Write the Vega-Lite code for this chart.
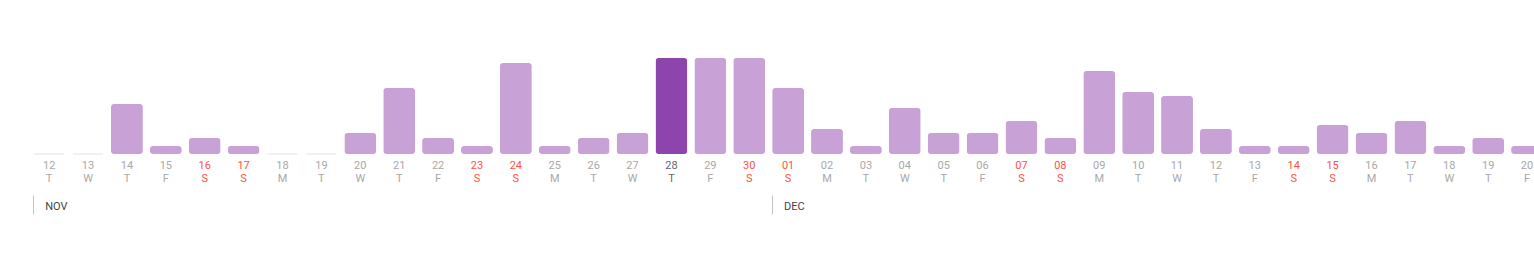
{
  "$schema": "https://vega.github.io/schema/vega-lite/v6.json",
  "width": 1534,
  "height": 154,
  "autosize": {"type": "none"},
  "padding": {"left": 0, "top": 0, "right": 0, "bottom": 108},
  "background": "white",
  "config": {"view": {"stroke": null}, "font": "Roboto"},
  "data": {
    "values": [
      {"d": "2024-11-12", "v": 0},
      {"d": "2024-11-13", "v": 0},
      {"d": "2024-11-14", "v": 50},
      {"d": "2024-11-15", "v": 8},
      {"d": "2024-11-16", "v": 16},
      {"d": "2024-11-17", "v": 8},
      {"d": "2024-11-18", "v": 0},
      {"d": "2024-11-19", "v": 0},
      {"d": "2024-11-20", "v": 21},
      {"d": "2024-11-21", "v": 66},
      {"d": "2024-11-22", "v": 16},
      {"d": "2024-11-23", "v": 8},
      {"d": "2024-11-24", "v": 91},
      {"d": "2024-11-25", "v": 8},
      {"d": "2024-11-26", "v": 16},
      {"d": "2024-11-27", "v": 21},
      {"d": "2024-11-28", "v": 96},
      {"d": "2024-11-29", "v": 96},
      {"d": "2024-11-30", "v": 96},
      {"d": "2024-12-01", "v": 66},
      {"d": "2024-12-02", "v": 25},
      {"d": "2024-12-03", "v": 8},
      {"d": "2024-12-04", "v": 46},
      {"d": "2024-12-05", "v": 21},
      {"d": "2024-12-06", "v": 21},
      {"d": "2024-12-07", "v": 33},
      {"d": "2024-12-08", "v": 16},
      {"d": "2024-12-09", "v": 83},
      {"d": "2024-12-10", "v": 62},
      {"d": "2024-12-11", "v": 58},
      {"d": "2024-12-12", "v": 25},
      {"d": "2024-12-13", "v": 8},
      {"d": "2024-12-14", "v": 8},
      {"d": "2024-12-15", "v": 29},
      {"d": "2024-12-16", "v": 21},
      {"d": "2024-12-17", "v": 33},
      {"d": "2024-12-18", "v": 8},
      {"d": "2024-12-19", "v": 16},
      {"d": "2024-12-20", "v": 8}
    ]
  },
  "resolve": {"axis": {"x": "independent"}},
  "layer": [
    {
      "transform": [{"filter": "datum.v > 0"}],
      "mark": {"type": "bar", "cornerRadius": 3},
      "encoding": {
        "x": {
          "field": "d", "type": "ordinal", "sort": "ascending",
          "scale": {"range": [33.2, 1543], "paddingInner": 0.18, "paddingOuter": 0},
          "axis": {
            "title": null, "domain": false, "ticks": false, "tickSize": 0,
            "labelPadding": 14, "labelBaseline": "alphabetic", "labelLineHeight": 13.5,
            "labelFontSize": 11, "labelFont": "Roboto", "labelAngle": 0,
            "labelOverlap": false, "labelBound": false,
            "labelExpr": "[substring(datum.value, 8, 10), ['S','M','T','W','T','F','S'][utcday(toDate(datum.value))]]",
            "labelColor": {
              "condition": [
                {"test": "datum.value == '2024-11-28'", "value": "#666666"},
                {"test": "utcday(toDate(datum.value)) == 0 || utcday(toDate(datum.value)) == 6", "value": "#ff5145"}
              ],
              "value": "#a8a8a8"
            }
          }
        },
        "y": {"field": "v", "type": "quantitative", "scale": {"domain": [0, 154], "nice": false, "zero": true}, "axis": null},
        "color": {
          "condition": {"test": "datum.d == '2024-11-28'", "value": "#8e44ad"},
          "value": "#c8a2d6"
        }
      }
    },
    {
      "transform": [{"filter": "datum.v == 0"}],
      "mark": {"type": "tick", "orient": "horizontal", "size": 30, "thickness": 1, "color": "#d6d6d6"},
      "encoding": {
        "x": {"field": "d", "type": "ordinal", "sort": "ascending", "axis": null},
        "y": {"field": "v", "type": "quantitative", "axis": null}
      }
    },
    {
      "mark": {"type": "text", "text": ""},
      "encoding": {
        "x": {
          "field": "d", "type": "ordinal", "sort": "ascending",
          "axis": {
            "orient": "bottom", "offset": 41, "title": null,
            "values": ["2024-11-12", "2024-12-01"], "bandPosition": 0,
            "domain": false, "grid": false, "ticks": true, "tickSize": 19,
            "tickColor": "#c4c4c4", "tickWidth": 1,
            "labelExpr": "['JAN','FEB','MAR','APR','MAY','JUN','JUL','AUG','SEP','OCT','NOV','DEC'][utcmonth(toDate(datum.value))]",
            "labelAlign": "left", "labelBaseline": "alphabetic", "labelPadding": -5,
            "labelOffset": -4, "labelColor": "#444444",
            "labelFontSize": 11, "labelFont": "Roboto", "labelAngle": 0,
            "labelOverlap": false, "labelBound": false
          }
        }
      }
    }
  ]
}
